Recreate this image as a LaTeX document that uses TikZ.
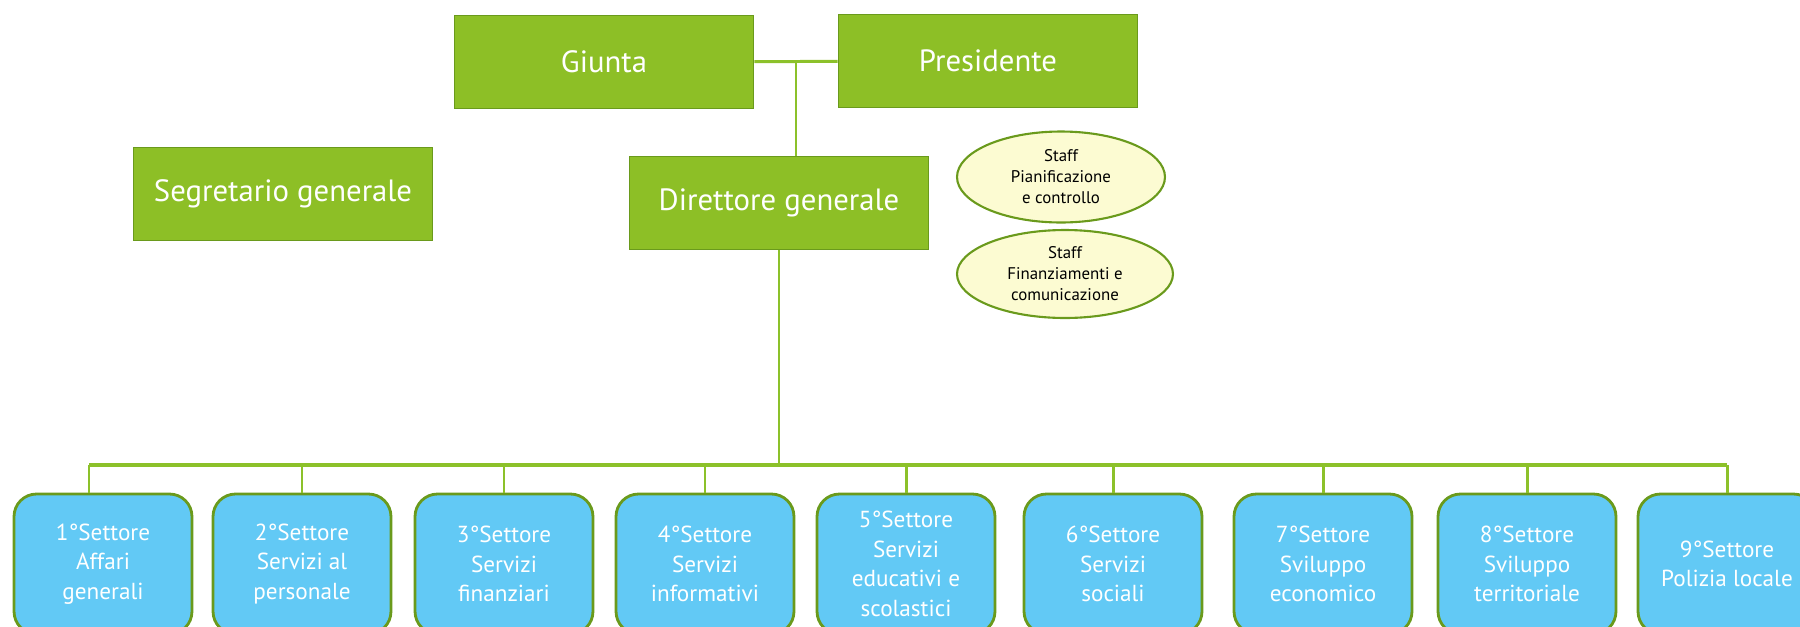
\documentclass[tikz,border=0pt]{standalone}
\usepackage{fontspec}
\setmainfont{PT Sans}
\usetikzlibrary{shapes.geometric}

\definecolor{boxgreen}{HTML}{8DBF26}
\definecolor{edgegreen}{HTML}{6A9A1C}
\definecolor{linegreen}{HTML}{8CC12A}
\definecolor{sectblue}{HTML}{62C9F5}
\definecolor{staffyellow}{HTML}{FCFBD2}

\tikzset{
  organo/.style={rectangle, fill=boxgreen, draw=edgegreen, line width=1pt, text=white,
    minimum width=5.98cm, minimum height=1.86cm, font=\fontsize{17.5}{20}\selectfont},
  staff/.style={ellipse, fill=staffyellow, draw=edgegreen, line width=1.2pt, align=center,
    inner sep=0pt, font=\fontsize{9.6}{12}\selectfont},
  settore/.style={rectangle, rounded corners=0.45cm, fill=sectblue, draw=edgegreen,
    line width=1.6pt, text=white, align=center, minimum width=3.56cm, minimum height=2.8cm,
    font=\fontsize{13.2}{16.8}\selectfont},
  filo/.style={linegreen, line width=1.7pt}
}

\begin{document}
\begin{tikzpicture}[x=0.02cm,y=-0.02cm]
                        \useasboundingbox (0,0) rectangle (1800,626);
                        \node[organo] (giunta) at (604,62) {Giunta};
                        \node[organo] (presidente) at (988,61) {Presidente};
                        \node[organo] (segretario) at (283,194) {Segretario generale};
                        \node[organo] (direttore) at (779,203) {Direttore generale};
                        \node[staff, minimum width=4.16cm, minimum height=1.82cm] (pianif) at (1061,177) {Staff\\Pianificazione\\e controllo};
                        \node[staff, minimum width=4.32cm, minimum height=1.76cm] (finanz) at (1065,274) {Staff\\Finanziamenti e\\comunicazione};

                        \node[settore] (s1) at (103,564) {1°Settore\\Affari\\generali};
                        \node[settore] (s2) at (302,564) {2°Settore\\Servizi al\\personale};
                        \node[settore] (s3) at (504,564) {3°Settore\\Servizi\\finanziari};
                        \node[settore] (s4) at (705,564) {4°Settore\\Servizi\\informativi};
                        \node[settore] (s5) at (906,564) {5°Settore\\Servizi\\educativi e\\scolastici};
                        \node[settore] (s6) at (1113,564) {6°Settore\\Servizi\\sociali};
                        \node[settore] (s7) at (1323,564) {7°Settore\\Sviluppo\\economico};
                        \node[settore] (s8) at (1527,564) {8°Settore\\Sviluppo\\territoriale};
                        \node[settore] (s9) at (1727,564) {9°Settore\\Polizia locale};

                        \coordinate (nodo) at (796,62);
                        \coordinate (bus) at (779,465);
                        \coordinate (inizio) at (89,465);
                        \draw[filo] (giunta) -- (presidente);
                        \draw[filo] (nodo) -- (direttore.north -| nodo);
                        \draw[filo] (direttore.south) -- (bus);
                        \draw[filo, line width=2.2pt] (inizio) -- (s9.north |- bus);
                        \draw[filo] (inizio) -- (s1.north -| inizio);
                        \foreach \i in {2,...,9}
                          \draw[filo] (s\i.north |- bus) -- (s\i.north);
                    \end{tikzpicture}
\end{document}
